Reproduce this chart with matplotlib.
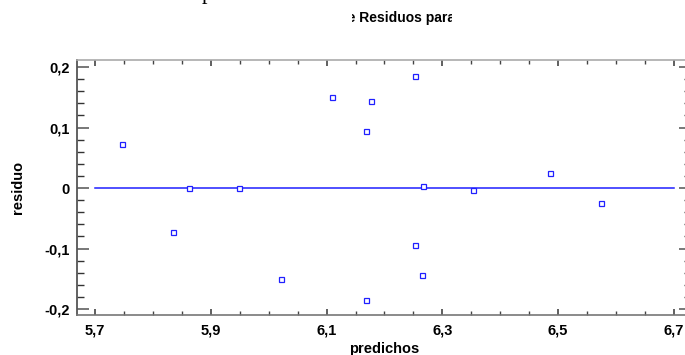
import matplotlib
matplotlib.use("Agg")
import matplotlib.pyplot as plt
from matplotlib.ticker import MultipleLocator, FixedLocator, FuncFormatter
from matplotlib.transforms import Bbox

predichos = [5.7466, 5.8347, 5.862, 5.9487, 6.0207, 6.1088, 6.176, 6.1675,
             6.2532, 6.267, 6.3534, 6.4858, 6.5734, 6.2532, 6.2642, 6.1675]
residuo = [0.0727, -0.0732, -0.0003, 0.0005, -0.151, 0.151, 0.1433, 0.0937,
           0.185, 0.0038, -0.0038, 0.0243, -0.0243, -0.0937, -0.1438, -0.185]
ref_x = [5.7, 6.7]
ref_y = [0.0, 0.0]
x_ticks = [5.7, 5.9, 6.1, 6.3, 6.5, 6.7]
y_ticks = [-0.2, -0.1, 0.0, 0.1, 0.2]
title_text = "e Residuos para"
x_label = "predichos"
y_label = "residuo"

plt.rcParams['font.family'] = ['Liberation Sans', 'DejaVu Sans']

W, H = 685, 355
fig = plt.figure(figsize=(W / 100, H / 100), dpi=100)
ax = fig.add_axes([77 / W, 40 / H, (691 - 77) / W, (315 - 60) / H])

ax.plot(ref_x, ref_y, color='#1f1fff', lw=1.1, zorder=2)
ax.plot(predichos, residuo, linestyle='none', marker='s', markersize=3.6,
        markerfacecolor='white', markeredgecolor='#2020ff', markeredgewidth=0.9,
        zorder=3)

ax.set_xlim(5.6689, 6.7294)
ax.set_ylim(-0.2099, 0.2116)

ax.xaxis.set_major_locator(FixedLocator(x_ticks))
ax.xaxis.set_minor_locator(MultipleLocator(0.05))
ax.yaxis.set_major_locator(FixedLocator(y_ticks))
ax.yaxis.set_minor_locator(MultipleLocator(0.02))

def fmt(v, pos):
    if abs(v) < 1e-9:
        return "0"
    s = f"{v:.1f}"
    return s.replace('.', ',')

ax.xaxis.set_major_formatter(FuncFormatter(fmt))
ax.yaxis.set_major_formatter(FuncFormatter(fmt))

ax.tick_params(axis='y', which='major', direction='in', length=8.6, width=1.4,
               color='#777777', left=True, right=True, labelsize=10.5, pad=5)
ax.tick_params(axis='y', which='minor', direction='in', length=5, width=1.0,
               color='#333333', left=True, right=True)
ax.tick_params(axis='x', which='major', direction='in', length=4.5, width=1.2,
               color='#444444', bottom=True, top=True, labelsize=10.5, pad=6)
ax.tick_params(axis='x', which='minor', direction='in', length=3, width=1.0,
               color='#444444', bottom=True, top=True)
for lab in ax.get_xticklabels() + ax.get_yticklabels():
    lab.set_fontweight('bold')

ax.spines['left'].set_color('#555555')
ax.spines['left'].set_linewidth(1.3)
ax.spines['bottom'].set_color('#777777')
ax.spines['bottom'].set_linewidth(1.2)
ax.spines['top'].set_color('#aaaaaa')
ax.spines['top'].set_linewidth(1.2)
ax.spines['right'].set_color('#777777')

ax.set_xlabel(x_label, fontsize=10.5, fontweight='bold', labelpad=3)
ax.set_ylabel(y_label, fontsize=10.5, fontweight='bold', labelpad=14)

t = fig.text(401 / W, 1 - 18 / H, "de Residuos para l", fontsize=10,
             fontweight='bold', ha='center', va='center')
t.set_clip_box(Bbox([[352, 0], [452, H]]))
t.set_clip_on(True)

fig.text(207 / W, 1 + 1 / H, "p", fontsize=16, family='Liberation Serif',
         ha='center', va='baseline')

fig.savefig("out.png", dpi=100)
